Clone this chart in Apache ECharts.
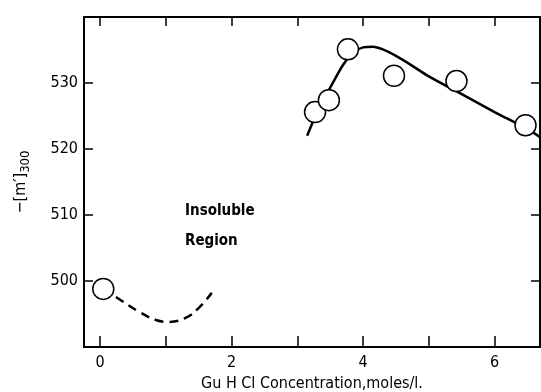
<!DOCTYPE html>
<html>
<head>
<meta charset="utf-8">
<script src="https://cdn.jsdelivr.net/npm/echarts@6/dist/echarts.min.js"></script>
<style>
  html, body { margin: 0; padding: 0; background: #fff; }
</style>
</head>
<body>
<div id="chart" style="width: 541px; height: 392px"></div>
<script>
  // measured points (open circles)
  const circleX = [0.05, 3.27, 3.48, 3.77, 4.47, 5.42, 6.47];
  const circleY = [498.8, 525.6, 527.4, 535.1, 531.1, 530.3, 523.6];
  // solid fitted curve
  const fitX = [3.15, 3.25, 3.4, 3.55, 3.7, 3.85, 4.0, 4.15, 4.3, 4.5, 4.75, 5.0, 5.5, 6.0, 6.5, 6.69];
  const fitY = [522.0, 524.4, 527.4, 530.2, 532.8, 534.6, 535.4, 535.5, 535.1, 534.1, 532.6, 531.0, 528.3, 525.6, 523.0, 521.8];
  // dashed curve (low concentration)
  const dashX = [0.05, 0.3, 0.6, 0.85, 1.05, 1.3, 1.5, 1.7];
  const dashY = [498.8, 497.2, 495.3, 494.1, 493.8, 494.4, 495.9, 498.2];
  // ticks
  const xTicks = [0, 1, 2, 3, 4, 5, 6];
  const xLabels = [0, 2, 4, 6];

  const font = "'DejaVu Sans Condensed', 'DejaVu Sans', sans-serif";
  const pairs = (xs, ys) => xs.map((x, i) => [x, ys[i]]);

  let chart = echarts.init(document.getElementById('chart'));
  let option = {
    backgroundColor: '#fff',
    animation: false,
    grid: { left: 84, right: 1, top: 17, bottom: 45, outerBoundsMode: 'none' },
    xAxis: [{
      type: 'value',
      min: -0.243,
      max: 6.69,
      name: 'Gu H Cl Concentration,moles/l.',
      nameLocation: 'middle',
      nameGap: 27,
      nameTextStyle: { color: '#000', fontSize: 16, fontFamily: font },
      axisLine: { onZero: false, lineStyle: { color: '#000', width: 2 } },
      axisTick: { inside: true, length: 11, customValues: xTicks, lineStyle: { color: '#000', width: 1.5 } },
      axisLabel: { customValues: xLabels, color: '#000', fontSize: 16, fontFamily: font, margin: 8 },
      splitLine: { show: false }
    }, {
      type: 'value',
      position: 'top',
      min: -0.243,
      max: 6.69,
      axisLine: { onZero: false, lineStyle: { color: '#000', width: 2 } },
      axisTick: { inside: true, length: 9, customValues: xTicks, lineStyle: { color: '#000', width: 1.5 } },
      axisLabel: { show: false },
      splitLine: { show: false }
    }],
    yAxis: [{
      type: 'value',
      min: 490,
      max: 540,
      interval: 10,
      name: '{a|−[m′]}{b|300}',
      nameLocation: 'middle',
      nameRotate: 90,
      nameGap: 52,
      nameTextStyle: {
        rich: {
          a: { color: '#000', fontSize: 16, fontFamily: font },
          b: { color: '#000', fontSize: 13, fontFamily: font, padding: [10, 0, 0, 0] }
        }
      },
      axisLine: { onZero: false, lineStyle: { color: '#000', width: 2 } },
      axisTick: { inside: true, length: 9, lineStyle: { color: '#000', width: 1.5 } },
      axisLabel: {
        color: '#000', fontSize: 16, fontFamily: font, margin: 6,
        formatter: v => (v === 490 || v === 540) ? '' : v
      },
      splitLine: { show: false }
    }, {
      type: 'value',
      position: 'right',
      min: 490,
      max: 540,
      interval: 10,
      axisLine: { show: true, onZero: false, lineStyle: { color: '#000', width: 2 } },
      axisTick: { show: true, inside: true, length: 9, lineStyle: { color: '#000', width: 1.5 } },
      axisLabel: { show: false },
      splitLine: { show: false }
    }],
    graphic: [{
      type: 'text', left: 185, top: 204,
      style: { text: 'Insoluble', fill: '#000', font: 'bold 15px ' + font }
    }, {
      type: 'text', left: 185, top: 234,
      style: { text: 'Region', fill: '#000', font: 'bold 15px ' + font }
    }],
    series: [{
      name: 'fit',
      type: 'line',
      smooth: 0.3,
      showSymbol: false,
      data: pairs(fitX, fitY),
      lineStyle: { color: '#000', width: 2.5 },
      z: 2
    }, {
      name: 'dashed',
      type: 'line',
      smooth: 0.4,
      showSymbol: false,
      data: pairs(dashX, dashY),
      lineStyle: { color: '#000', width: 2.5, type: [9, 6] },
      z: 2
    }, {
      name: 'points',
      type: 'scatter',
      symbol: 'circle',
      symbolSize: 21,
      data: pairs(circleX, circleY),
      itemStyle: { color: '#fff', borderColor: '#000', borderWidth: 1.5, opacity: 1 },
      z: 5
    }]
  };
  chart.setOption(option);
</script>
</body>
</html>
